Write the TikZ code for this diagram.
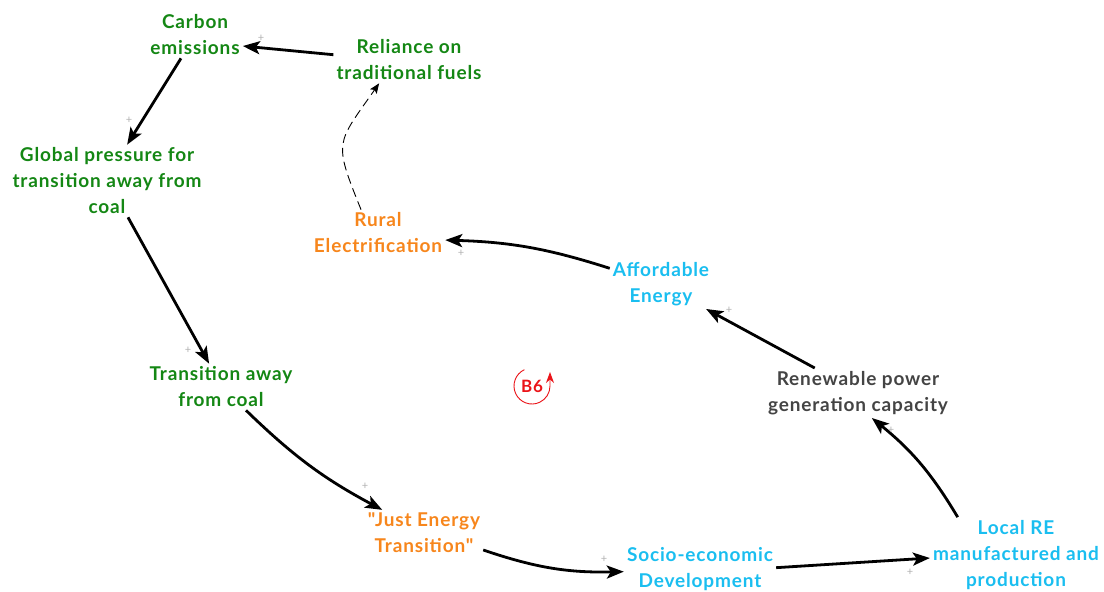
\documentclass[tikz,border=0pt]{standalone}
\usepackage{fontspec}
\setmainfont{Lato}[LetterSpace=4.5,Ligatures=TeXOff]
\usetikzlibrary{arrows.meta}
\definecolor{cldgreen}{RGB}{20,135,20}
\definecolor{cldorange}{RGB}{247,134,28}
\definecolor{cldcyan}{RGB}{26,190,240}
\definecolor{cldgray}{RGB}{68,68,68}
\definecolor{cldred}{RGB}{235,20,25}
\begin{document}
\begin{tikzpicture}[x=1pt,y=-1pt,
  var/.style={align=center,inner sep=3pt,font=\bfseries\fontsize{19}{26}\selectfont},
  vgreen/.style={var,text=cldgreen},
  vorange/.style={var,text=cldorange},
  vcyan/.style={var,text=cldcyan},
  vgray/.style={var,text=cldgray},
  link/.style={line width=2.8pt,-{Stealth[length=17pt,width=13pt,inset=4pt]}},
  dlink/.style={line width=0.9pt,dash pattern=on 9pt off 5pt,-{Stealth[length=10pt,width=8pt,inset=2pt]}},
  pol/.style={text=black!30,font=\fontsize{11}{11}\selectfont,inner sep=0pt},
]
\fill[white] (0,0) rectangle (1104,592);
\useasboundingbox (0,0) rectangle (1104,592);

% variables
\node[vgreen]  (carbon)     at (195,35)  {Carbon\\emissions};
\node[vgreen]  (reliance)   at (409,60)  {Reliance on\\traditional fuels};
\node[vgreen]  (global)     at (107,181) {Global pressure for\\transition away from\\coal};
\node[vgreen]  (transition) at (221,387) {Transition away\\from coal};
\node[vorange] (just)       at (424,533) {"Just Energy\\Transition"};
\node[vcyan]   (socio)      at (700,569) {Socio-economic\\Development};
\node[vcyan]   (local)      at (1016,555) {Local RE\\manufactured and\\production};
\node[vgray]   (renewable)  at (858,393) {Renewable power\\generation capacity};
\node[vcyan]   (affordable) at (661,284) {Affordable\\Energy};
\node[vorange] (rural)      at (378,233) {Rural\\Electrification};

% causal links
\draw[link] (reliance.176) -- (carbon.-13);
\draw[link] (carbon.-121) -- (global.61);
\draw[link] (global.-60) -- (transition.117);
\draw[link] (transition.-43) to[bend right=8] (just.151);
\draw[link] (just.-16) to[bend right=10] (socio.-178);
\draw[link] (socio.1) -- (local.-178);
\draw[link] (local.147) to[bend right=10] (renewable.-61);
\draw[link] (renewable.150) -- (affordable.-29);
\draw[link] (affordable.163) to[bend right=8] (rural.-6);
\draw[dlink] (rural.126) to[out=112,in=-125,looseness=1.5] (reliance.-142);

% polarities
\node[pol] (p1) at (261,38)  {+};
\node[pol] (p2) at (129,120) {+};
\node[pol] (p3) at (188,350) {+};
\node[pol] (p4) at (365,486) {+};
\node[pol] (p5) at (604,559) {+};
\node[pol] (p6) at (910,572) {+};
\node[pol] (p7) at (891,430) {+};
\node[pol] (p8) at (729,310) {+};
\node[pol] (p9) at (461,253) {+};

% loop marker
\node[text=cldred,font=\bfseries\fontsize{17}{17}\selectfont,inner sep=0pt] (b6) at (532,386) {B6};
\begin{scope}[shift={(b6.center)},yscale=-1]
  \draw[cldred,line width=0.9pt,-{Stealth[length=11pt,width=8pt]}]
    (115:18) arc[start angle=115,end angle=360,radius=18]
    -- ++(0,14);
\end{scope}
\end{tikzpicture}
\end{document}
